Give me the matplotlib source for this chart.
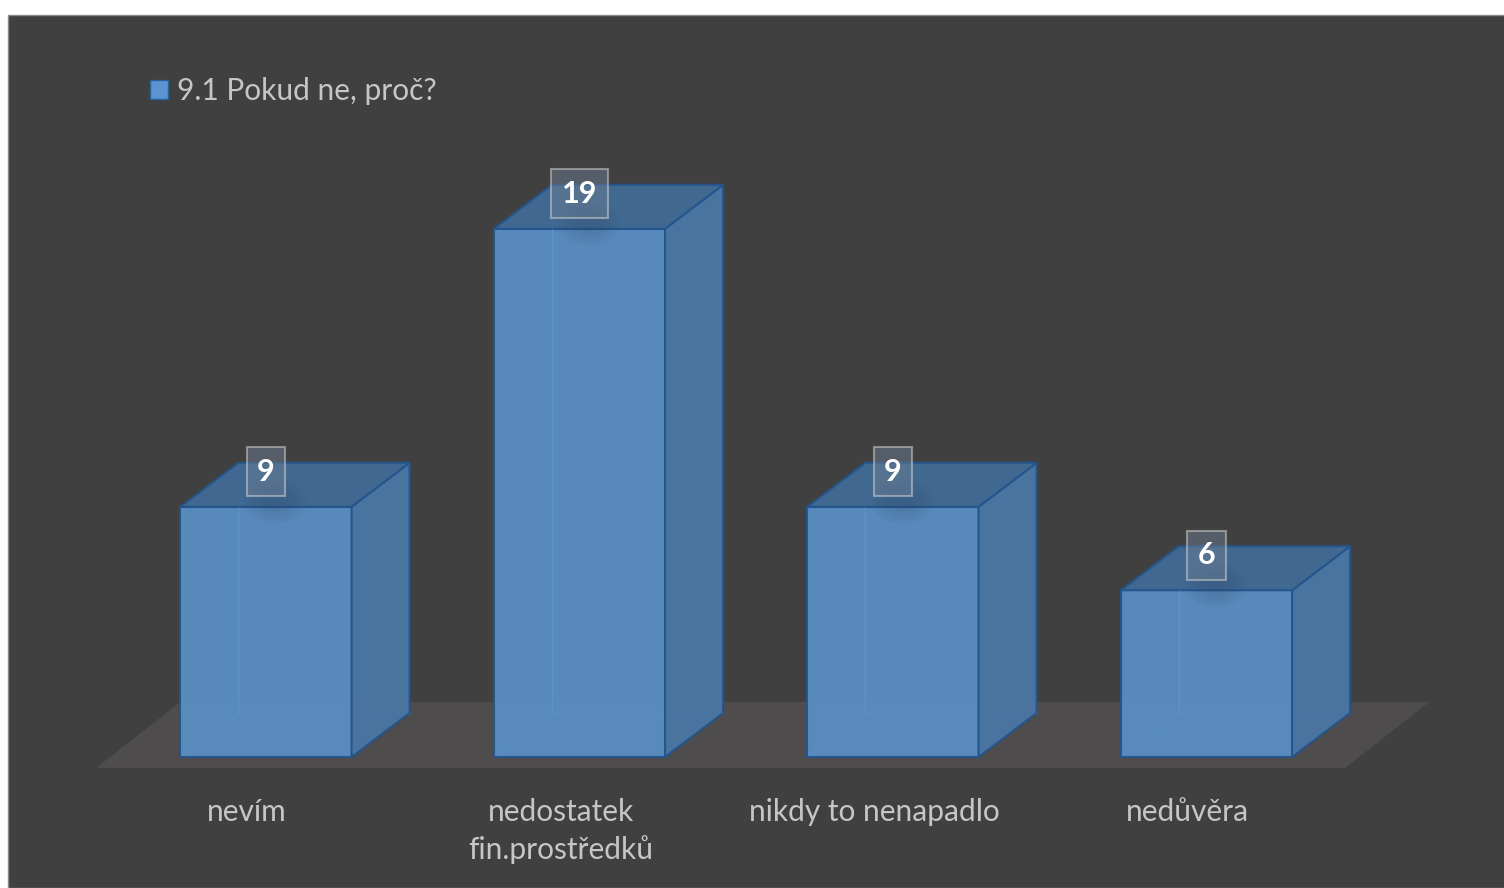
import numpy as np
import matplotlib.pyplot as plt
from matplotlib.patches import Polygon, Rectangle, Patch, Ellipse

categories = ['nevím', 'nedostatek\nfin.prostředků', 'nikdy to nenapadlo', 'nedůvěra']
values = [9, 19, 9, 6]
series_name = '9.1 Pokud ne, proč?'

plt.rcParams['font.family'] = ['Lato', 'DejaVu Sans']

bg = '#404040'
front_c = '#5a8ec3'
side_c = '#4a76a3'
top_c = '#406a94'
edge_c = '#24558c'
text_c = '#c6c6c6'

fig = plt.figure(figsize=(15.04, 8.88), dpi=100, facecolor='white')

ax = fig.add_axes([0, 0, 1, 1])
ax.set_xlim(-0.8485, 3.949)
ax.set_ylim(-4.712, 27.23)
ax.axis('off')
ax.patch.set_alpha(0)

# dark chart area, leaving a thin white margin on the top and left
ax.add_patch(Rectangle((8 / 1504, 0), 1, 1 - 15 / 888, transform=ax.transAxes,
                       facecolor=bg, edgecolor='#8a8a8a', lw=1, zorder=0, clip_on=False))

# half bar width and the oblique depth offset
w = 0.273
dx, dy = 0.185, 1.583

# floor plane
fdx, fdy = dx * 1.45, dy * 1.5
floor = [(-0.542, -0.396), (3.442, -0.396), (3.442 + fdx, -0.396 + fdy), (-0.542 + fdx, -0.396 + fdy)]
ax.add_patch(Polygon(floor, closed=True, facecolor='#4e4c4c', edgecolor='none', zorder=1))

for i, v in enumerate(values):
    # hidden back edges, seen through the translucent faces
    hid = dict(color='#6a9ccf', lw=1, alpha=0.5, zorder=2)
    ax.plot([i - w + dx, i - w + dx], [dy, v + dy], **hid)
    ax.plot([i - w, i - w + dx], [0, dy], **hid)
    ax.plot([i - w + dx, i + w + dx], [dy, dy], **hid)

    front = [(i - w, 0), (i + w, 0), (i + w, v), (i - w, v)]
    right = [(i + w, 0), (i + w + dx, dy), (i + w + dx, v + dy), (i + w, v)]
    top = [(i - w, v), (i + w, v), (i + w + dx, v + dy), (i - w + dx, v + dy)]
    ax.add_patch(Polygon(front, closed=True, facecolor=front_c, edgecolor=edge_c,
                         lw=1.5, alpha=0.95, zorder=3))
    ax.add_patch(Polygon(right, closed=True, facecolor=side_c, edgecolor=edge_c,
                         lw=1.5, alpha=0.97, zorder=3))
    ax.add_patch(Polygon(top, closed=True, facecolor=top_c, edgecolor=edge_c,
                         lw=1.5, alpha=0.97, zorder=3))
    # faint inner edge again on top of the front face
    ax.plot([i - w + dx, i - w + dx], [dy, v], color='#6aa0d6', lw=1, alpha=0.35, zorder=4)

    # soft shadow cast by the value label
    for k in range(5):
        ax.add_patch(Ellipse((i + 0.03, v + 0.2), 0.2 - 0.03 * k, 1.6 - 0.25 * k,
                             facecolor='#34506e', edgecolor='none', alpha=0.06, zorder=4))

    ax.text(i, v + 1.26, str(v), ha='center', va='center', fontsize=22, fontweight='bold',
            color='white', zorder=6,
            bbox=dict(boxstyle='square,pad=0.34', facecolor='#6b7d90', alpha=0.5,
                      edgecolor='#d8d8d8', lw=1.5))

for i, lab in enumerate(categories):
    ax.text(i - 0.06, -1.48, lab, ha='center', va='top', fontsize=21.5, color=text_c,
            linespacing=1.36, zorder=5)

leg = ax.legend(handles=[Patch(facecolor='#5b93d3', edgecolor='#2d5f99', lw=1)], labels=[series_name],
                loc='center left', bbox_to_anchor=(150 / 1504, 1 - 91 / 888), frameon=False,
                fontsize=21.5, handlelength=0.6, handleheight=0.6, handletextpad=0.3,
                borderpad=0, borderaxespad=0, labelcolor=text_c)

fig.savefig('out.png', dpi=100, facecolor=fig.get_facecolor())
